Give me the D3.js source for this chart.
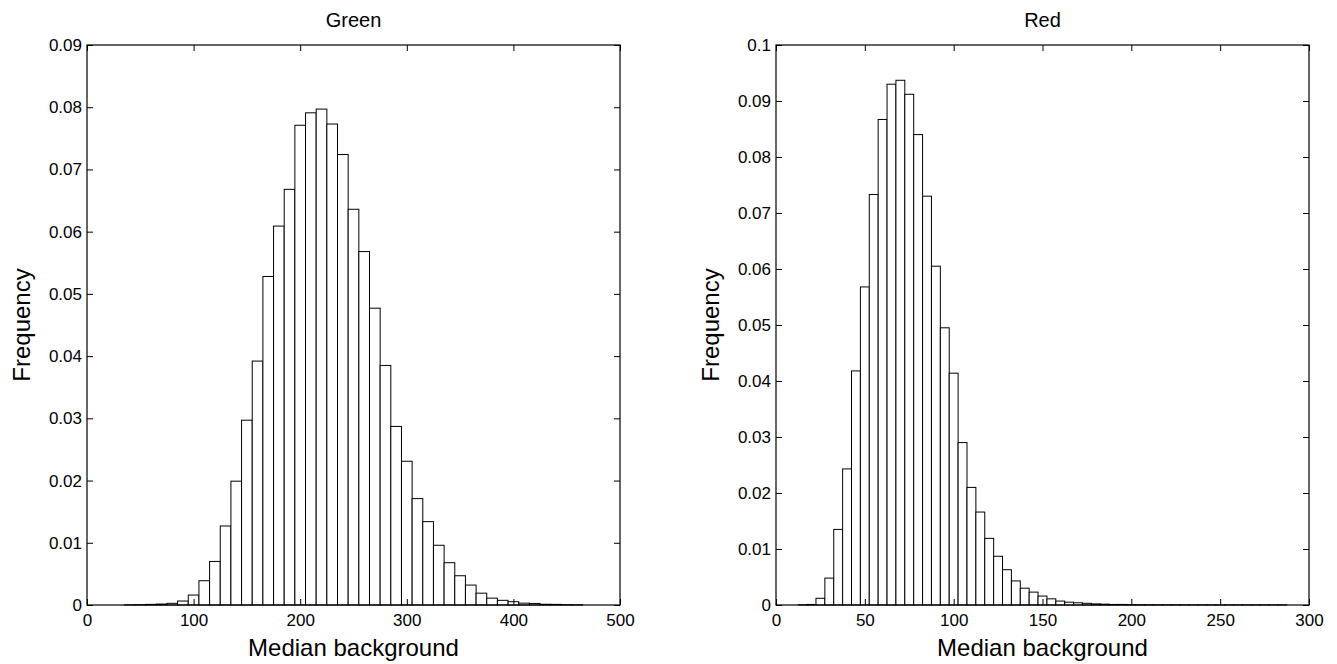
<!DOCTYPE html>
<html>
<head>
<meta charset="utf-8">
<script src="https://cdn.jsdelivr.net/npm/d3@7"></script>
<style>
  body { margin: 0; background: #fff; }
  text { font-family: "Liberation Sans", Arial, sans-serif; fill: #000; }
</style>
</head>
<body>
<script>
// Green channel histogram (bin centres, width 10)
let greenCenters = [40, 50, 60, 70, 80, 90, 100, 110, 120, 130, 140, 150, 160, 170, 180, 190,
  200, 210, 220, 230, 240, 250, 260, 270, 280, 290, 300, 310, 320, 330, 340, 350, 360, 370,
  380, 390, 400, 410, 420, 430, 440, 450, 460];
let greenFreq = [0.00003, 0.00005, 0.0001, 0.00015, 0.00027, 0.00064, 0.0016, 0.0039, 0.0070,
  0.0127, 0.0199, 0.0297, 0.0392, 0.0528, 0.0609, 0.0668, 0.0771, 0.0791, 0.0797, 0.0773,
  0.0724, 0.0636, 0.0568, 0.0477, 0.0385, 0.0287, 0.0231, 0.0171, 0.0134, 0.0096, 0.0068,
  0.0047, 0.0032, 0.0019, 0.0011, 0.00075, 0.00053, 0.0003, 0.00025, 0.00012, 0.0001,
  0.00005, 0.00003];
let greenXTicks = [0, 100, 200, 300, 400, 500];
let greenYTicks = [0, 0.01, 0.02, 0.03, 0.04, 0.05, 0.06, 0.07, 0.08, 0.09];

// Red channel histogram (bin centres, width 5)
let redCenters = [15, 20, 25, 30, 35, 40, 45, 50, 55, 60, 65, 70, 75, 80, 85, 90, 95, 100,
  105, 110, 115, 120, 125, 130, 135, 140, 145, 150, 155, 160, 165, 170, 175, 180, 185, 190,
  195, 200, 205, 210, 215, 220, 225, 230, 235, 240, 245, 250, 255, 260, 265, 270, 275, 280, 285];
let redFreq = [0.00003, 0.0001, 0.0012, 0.0048, 0.0135, 0.0243, 0.0418, 0.0568, 0.0733,
  0.0867, 0.0930, 0.0937, 0.0912, 0.0840, 0.0730, 0.0605, 0.0495, 0.0414, 0.0290, 0.0210,
  0.0166, 0.0119, 0.0087, 0.0063, 0.0043, 0.0030, 0.0023, 0.0016, 0.0011, 0.0007, 0.0005,
  0.0004, 0.0003, 0.0002, 0.00015, 0.0001, 0.0001, 0.00006, 0.00005, 0.00004, 0.00003,
  0.00003, 0.00003, 0.00002, 0.00002, 0.00002, 0.00002, 0.00002, 0.00002, 0.00002,
  0.00002, 0.00002, 0.00002, 0.00002, 0.00002];
let redXTicks = [0, 50, 100, 150, 200, 250, 300];
let redYTicks = [0, 0.01, 0.02, 0.03, 0.04, 0.05, 0.06, 0.07, 0.08, 0.09, 0.1];

let svg = d3.select('body').append('svg')
  .attr('width', 1337)
  .attr('height', 664);

function drawPanel(opts) {
  let x = d3.scaleLinear().domain(opts.xDomain).range([opts.left, opts.right]);
  let y = d3.scaleLinear().domain(opts.yDomain).range([opts.bottom, opts.top]);
  let g = svg.append('g');
  let data = opts.centers.map((c, i) => ({ c: c, v: opts.freq[i] }));

  // bars
  g.selectAll('rect.bar')
    .data(data)
    .enter()
    .append('rect')
    .attr('class', 'bar')
    .attr('x', d => x(d.c - opts.width / 2))
    .attr('y', d => y(d.v))
    .attr('width', d => x(d.c + opts.width / 2) - x(d.c - opts.width / 2))
    .attr('height', d => y(0) - y(d.v))
    .attr('fill', '#fff')
    .attr('stroke', '#000')
    .attr('stroke-width', 1);

  // inward ticks on all four sides, labels bottom and left
  let tick = 6;
  g.append('g')
    .attr('transform', `translate(0,${opts.bottom})`)
    .call(d3.axisBottom(x).tickValues(opts.xTicks).tickSize(-tick).tickPadding(9).tickFormat(d3.format('')))
    .call(a => a.select('.domain').remove())
    .selectAll('text').attr('font-size', 17).attr('font-family', '"Liberation Sans", Arial, sans-serif');
  g.append('g')
    .attr('transform', `translate(0,${opts.top})`)
    .call(d3.axisTop(x).tickValues(opts.xTicks).tickSize(-tick).tickFormat(''))
    .call(a => a.select('.domain').remove());
  g.append('g')
    .attr('transform', `translate(${opts.left},0)`)
    .call(d3.axisLeft(y).tickValues(opts.yTicks).tickSize(-tick).tickPadding(5).tickFormat(d3.format('')))
    .call(a => a.select('.domain').remove())
    .selectAll('text').attr('font-size', 17).attr('font-family', '"Liberation Sans", Arial, sans-serif');
  g.append('g')
    .attr('transform', `translate(${opts.right},0)`)
    .call(d3.axisRight(y).tickValues(opts.yTicks).tickSize(-tick).tickFormat(''))
    .call(a => a.select('.domain').remove());

  g.append('rect')
    .attr('x', opts.left)
    .attr('y', opts.top)
    .attr('width', opts.right - opts.left)
    .attr('height', opts.bottom - opts.top)
    .attr('fill', 'none')
    .attr('stroke', '#000')
    .attr('stroke-width', 1.2);

  // titles and labels
  g.append('text')
    .attr('x', (opts.left + opts.right) / 2)
    .attr('y', 27)
    .attr('text-anchor', 'middle')
    .attr('font-size', 20)
    .text(opts.title);
  g.append('text')
    .attr('x', (opts.left + opts.right) / 2)
    .attr('y', 656)
    .attr('text-anchor', 'middle')
    .attr('font-size', 24)
    .text('Median background');
  g.append('text')
    .attr('transform', `translate(${opts.left - 57},${(opts.top + opts.bottom) / 2}) rotate(-90)`)
    .attr('text-anchor', 'middle')
    .attr('font-size', 24)
    .text('Frequency');
}

drawPanel({
  title: 'Green', centers: greenCenters, freq: greenFreq, width: 10,
  xDomain: [0, 500], yDomain: [0, 0.09], xTicks: greenXTicks, yTicks: greenYTicks,
  left: 87, right: 620, top: 45, bottom: 605
});

drawPanel({
  title: 'Red', centers: redCenters, freq: redFreq, width: 5,
  xDomain: [0, 300], yDomain: [0, 0.1], xTicks: redXTicks, yTicks: redYTicks,
  left: 776, right: 1309, top: 45, bottom: 605
});
</script>
</body>
</html>
